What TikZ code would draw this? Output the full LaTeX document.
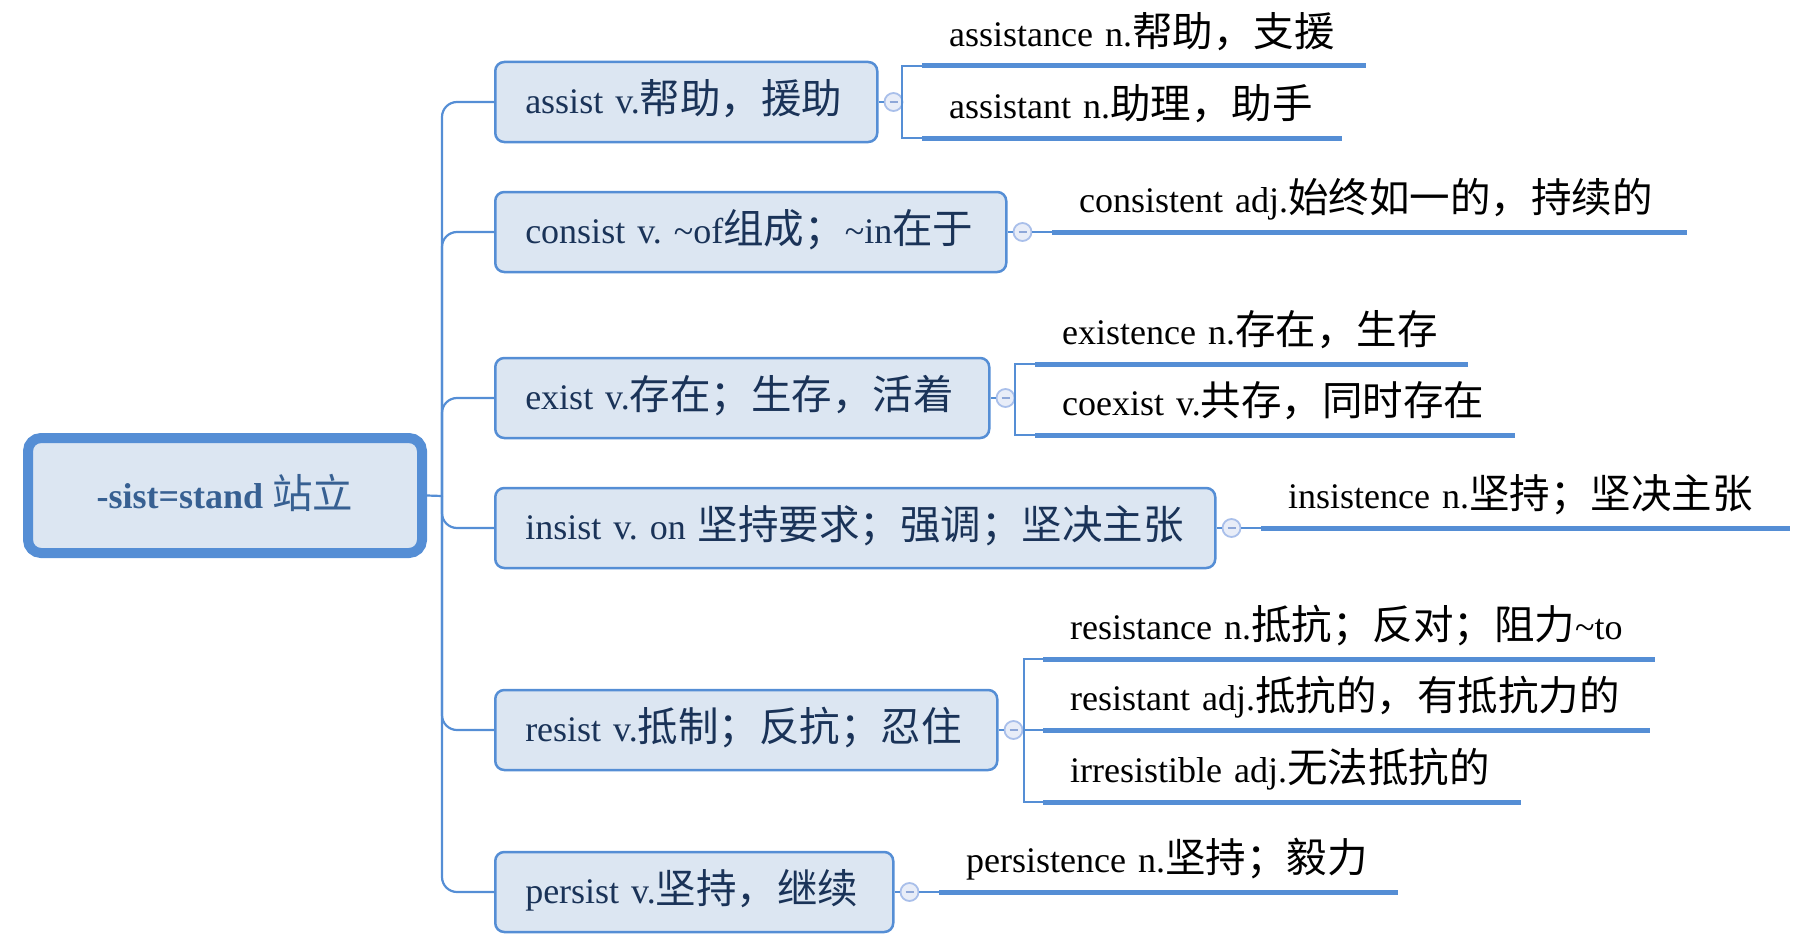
\documentclass[tikz,border=0pt]{standalone}
\usepackage{fontspec}
\setmainfont{Liberation Serif}
\newfontfamily\cjkfont{Noto Sans CJK SC}
\newcommand\zh[1]{{\cjkfont\mdseries\fontsize{40.5}{46}\selectfont #1}}
\frenchspacing
\definecolor{lineblue}{HTML}{558ED5}
\definecolor{boxfill}{HTML}{DCE6F2}
\definecolor{roottext}{HTML}{376092}
\definecolor{childtext}{HTML}{1A3358}
\definecolor{collline}{HTML}{A9BFEA}
\definecolor{collfill}{HTML}{E8EDF8}
\definecolor{collminus}{HTML}{8EA7D8}
\tikzset{
  conn/.style={draw=lineblue, line width=2.2pt},
  uline/.style={draw=lineblue, line width=5pt},
  rootbox/.style={draw=lineblue, fill=boxfill, line width=10pt, rounded corners=13pt,
    minimum width=394pt, minimum height=115pt, inner sep=0pt,
    text height=30pt, text depth=5pt, text=roottext,
    font=\fontsize{36}{44}\selectfont\bfseries},
  cbox/.style={draw=lineblue, fill=boxfill, line width=2.5pt, rounded corners=9pt,
    anchor=west, minimum height=80pt, inner xsep=30pt, inner ysep=0pt,
    align=left, text height=28pt, text depth=6pt, text=childtext,
    font=\fontsize{36}{44}\selectfont},
  leaf/.style={anchor=south west, inner xsep=27pt, inner ysep=0pt, align=left,
    text height=32pt, text depth=19pt, text=black,
    font=\fontsize{36}{44}\selectfont},
  coll/.style={circle, minimum size=18pt, inner sep=0pt, draw=collline, fill=collfill,
    line width=1.8pt,
    path picture={\draw[collminus, line width=1.6pt]
      ([xshift=-4pt]path picture bounding box.center) --
      ([xshift=4pt]path picture bounding box.center);}},
}
\begin{document}
\begin{tikzpicture}[x=1pt, y=-1pt]
\useasboundingbox (0,0) rectangle (1794,950);

% root
\node[rootbox] (root) at (225,495.5) {-sist=stand \zh{站立}};
\coordinate (hub) at (442,496);

% children
\node[cbox, text width=322pt] (assist) at (494,102) {\mbox{assist v.\zh{帮助，援助}}};
\node[cbox, text width=451pt] (consist) at (494,232) {\mbox{consist v. \textasciitilde of\zh{组成；}\textasciitilde in\zh{在于}}};
\node[cbox, text width=434pt] (exist) at (494,398) {\mbox{exist v.\zh{存在；生存，活着}}};
\node[cbox, text width=660pt] (insist) at (494,528) {\mbox{insist v. on \zh{坚持要求；强调；坚决主张}}};
\node[cbox, text width=442pt] (resist) at (494,730) {\mbox{resist v.\zh{抵制；反抗；忍住}}};
\node[cbox, text width=338pt] (persist) at (494,892) {\mbox{persist v.\zh{坚持，继续}}};

% trunk connectors
\draw[conn] (root.east) -- (hub);
\foreach \c in {assist,consist,exist,insist,resist,persist}
  \draw[conn, rounded corners=15pt] (hub) |- (\c.west);

% collapse circles
\node[coll] (ca) at ([xshift=15pt]assist.east) {};
\node[coll] (cc) at ([xshift=15pt]consist.east) {};
\node[coll] (ce) at ([xshift=15pt]exist.east) {};
\node[coll] (ci) at ([xshift=15pt]insist.east) {};
\node[coll] (cr) at ([xshift=15pt]resist.east) {};
\node[coll] (cp) at ([xshift=15pt]persist.east) {};

% leaves
\node[leaf, text width=390pt] (assistance) at (922,66) {\mbox{assistance n.\zh{帮助，支援}}};
\node[leaf, text width=366pt] (assistant) at (922,138) {\mbox{assistant n.\zh{助理，助手}}};
\node[leaf, text width=581pt] (consistent) at (1052,232) {\mbox{consistent adj.\zh{始终如一的，持续的}}};
\node[leaf, text width=379pt] (existence) at (1035,364) {\mbox{existence n.\zh{存在，生存}}};
\node[leaf, text width=426pt] (coexist) at (1035,435) {\mbox{coexist v.\zh{共存，同时存在}}};
\node[leaf, text width=475pt] (insistence) at (1261,528) {\mbox{insistence n.\zh{坚持；坚决主张}}};
\node[leaf, text width=558pt] (resistance) at (1043,659) {\mbox{resistance n.\zh{抵抗；反对；阻力}\textasciitilde to}};
\node[leaf, text width=553pt] (resistant) at (1043,730) {\mbox{resistant adj.\zh{抵抗的，有抵抗力的}}};
\node[leaf, text width=424pt] (irresistible) at (1043,802) {\mbox{irresistible adj.\zh{无法抵抗的}}};
\node[leaf, text width=405pt] (persistence) at (939,892) {\mbox{persistence n.\zh{坚持；毅力}}};

% brackets
\coordinate (ba) at (902,102);
\coordinate (be) at (1015,398);
\coordinate (br) at (1024,730);

% short connectors box -> circle
\foreach \b/\c in {assist/ca,consist/cc,exist/ce,insist/ci,resist/cr,persist/cp}
  \draw[conn] (\b.east) -- (\c);

% circle -> leaves
\draw[conn] (ca) -- (ba);
\draw[conn] (ba) |- (assistance.south west);
\draw[conn] (ba) |- (assistant.south west);
\draw[conn] (cc) -- (consistent.south west);
\draw[conn] (ce) -- (be);
\draw[conn] (be) |- (existence.south west);
\draw[conn] (be) |- (coexist.south west);
\draw[conn] (ci) -- (insistence.south west);
\draw[conn] (cr) -- (br);
\draw[conn] (br) |- (resistance.south west);
\draw[conn] (br) -- (resistant.south west);
\draw[conn] (br) |- (irresistible.south west);
\draw[conn] (cp) -- (persistence.south west);

% underlines
\foreach \l in {assistance,assistant,consistent,existence,coexist,insistence,resistance,resistant,irresistible,persistence}
  \draw[uline] (\l.south west) -- (\l.south east);
\end{tikzpicture}
\end{document}
